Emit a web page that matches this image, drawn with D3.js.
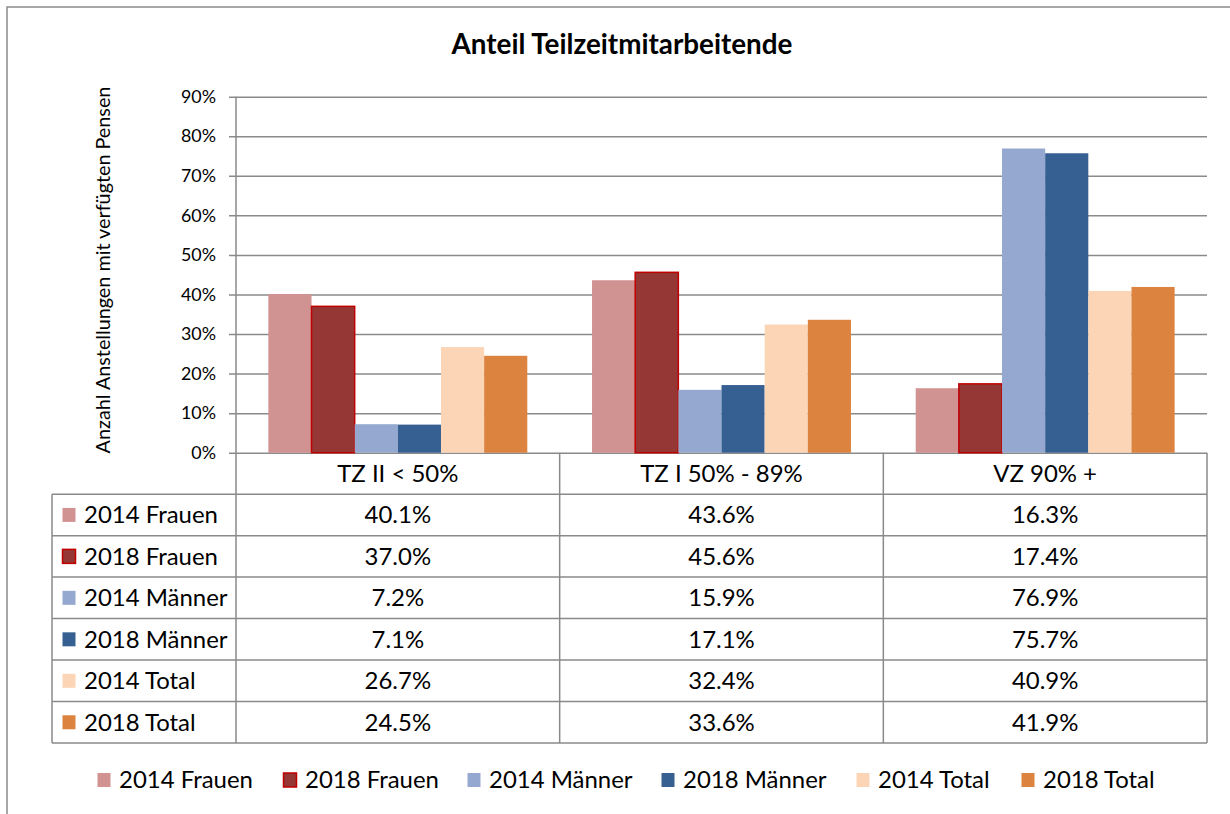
<!DOCTYPE html>
<html>
<head>
<meta charset="utf-8">
<script src="https://cdn.jsdelivr.net/npm/d3@7"></script>
<style>
  body { margin: 0; background: #fff; }
  svg text { font-family: Lato, "Open Sans", sans-serif; fill: #000; }
</style>
</head>
<body>
<div id="chart"></div>
<script>
// data
var categories = ["TZ II < 50%", "TZ I 50% - 89%", "VZ 90% +"];
var seriesNames = ["2014 Frauen", "2018 Frauen", "2014 Männer", "2018 Männer", "2014 Total", "2018 Total"];
var frauen2014 = [40.1, 43.6, 16.3];
var frauen2018 = [37.0, 45.6, 17.4];
var maenner2014 = [7.2, 15.9, 76.9];
var maenner2018 = [7.1, 17.1, 75.7];
var total2014 = [26.7, 32.4, 40.9];
var total2018 = [24.5, 33.6, 41.9];
var yTicks = [0, 10, 20, 30, 40, 50, 60, 70, 80, 90];

var seriesValues = [frauen2014, frauen2018, maenner2014, maenner2018, total2014, total2018];
var fills = ["#D19292", "#953735", "#95A9D0", "#376092", "#FBD5B5", "#DC843F"];
var strokes = [null, "#C00000", null, null, null, null];
var gridColor = "#8a8a8a";

var width = 1230, height = 814;

var svg = d3.select("#chart")
    .append("svg")
    .attr("width", width)
    .attr("height", height);

// pick a font size so that a sample string has the width seen in the picture
function fitSize(str, target, weight) {
    var t = svg.append("text")
        .attr("font-size", 20)
        .attr("font-weight", weight || "normal")
        .text(str);
    var len = t.node().getComputedTextLength();
    t.remove();
    return 20 * target / len;
}

var titleSize = fitSize("Anteil Teilzeitmitarbeitende", 341, "bold");
var tickSize = fitSize("90%", 35);
var axisTitleSize = fitSize("Anzahl Anstellungen mit verfügten Pensen", 367);
var tableSize = fitSize("2014 Frauen", 134);

// outer frame (runs off the right and bottom edge)
svg.append("rect")
    .attr("x", 7).attr("y", 7)
    .attr("width", 1300).attr("height", 900)
    .attr("fill", "none")
    .attr("stroke", gridColor)
    .attr("stroke-width", 1.5);

var plot = {left: 236, right: 1207, top: 96.7, bottom: 452.7};

var x = d3.scaleBand().domain(categories).range([plot.left, plot.right]).padding(0);
var xs = d3.scaleBand().domain(seriesNames).range([0, x.bandwidth()]).paddingInner(0).paddingOuter(0.75);
var y = d3.scaleLinear().domain([0, 90]).range([plot.bottom, plot.top]);

// title
svg.append("text")
    .attr("x", 622)
    .attr("y", 54)
    .attr("text-anchor", "middle")
    .attr("font-size", titleSize)
    .attr("font-weight", "bold")
    .text("Anteil Teilzeitmitarbeitende");

// y axis with gridlines
var yAxis = svg.append("g")
    .attr("class", "y axis")
    .attr("transform", "translate(" + plot.left + ",0)")
    .call(d3.axisLeft(y)
        .tickValues(yTicks)
        .tickFormat(function(d) { return d + "%"; })
        .tickSizeInner(-(plot.right - plot.left))
        .tickSizeOuter(0)
        .tickPadding(20));

yAxis.select(".domain").remove();
yAxis.selectAll(".tick line")
    .attr("stroke", gridColor)
    .attr("stroke-width", 1.5)
    .attr("x1", -7);
yAxis.selectAll(".tick text")
    .attr("font-size", tickSize)
    .attr("font-family", "Lato, 'Open Sans', sans-serif")
    .attr("fill", "#000");

svg.append("text")
    .attr("transform", "translate(110,270) rotate(-90)")
    .attr("text-anchor", "middle")
    .attr("font-size", axisTitleSize)
    .text("Anzahl Anstellungen mit verfügten Pensen");

// bars
var bars = [];
seriesNames.forEach(function(s, i) {
    categories.forEach(function(c, j) {
        bars.push({series: s, idx: i, cat: c, value: seriesValues[i][j]});
    });
});

svg.append("g").selectAll("rect")
    .data(bars)
    .enter().append("rect")
    .attr("x", function(d) { return x(d.cat) + xs(d.series); })
    .attr("width", xs.bandwidth())
    .attr("y", function(d) { return y(d.value); })
    .attr("height", function(d) { return y(0) - y(d.value); })
    .attr("fill", function(d) { return fills[d.idx]; })
    .attr("stroke", function(d) { return strokes[d.idx] || "none"; })
    .attr("stroke-width", 1.5);

// data table below the plot
var rows = ["header"].concat(seriesNames);
var ty = d3.scaleBand().domain(rows).range([plot.bottom, 743]);
var tableLeft = 52;

var table = svg.append("g").attr("class", "table");

// horizontal lines
table.selectAll("line.h")
    .data(rows.slice(1).concat(["end"]))
    .enter().append("line")
    .attr("class", "h")
    .attr("x1", tableLeft)
    .attr("x2", plot.right)
    .attr("y1", function(d) { return d === "end" ? ty.range()[1] : ty(d); })
    .attr("y2", function(d) { return d === "end" ? ty.range()[1] : ty(d); })
    .attr("stroke", gridColor)
    .attr("stroke-width", 1.5);

// vertical lines
table.append("line")
    .attr("x1", tableLeft).attr("x2", tableLeft)
    .attr("y1", ty(seriesNames[0])).attr("y2", ty.range()[1])
    .attr("stroke", gridColor).attr("stroke-width", 1.5);
table.append("line")
    .attr("x1", plot.left).attr("x2", plot.left)
    .attr("y1", plot.top).attr("y2", ty.range()[1])
    .attr("stroke", gridColor).attr("stroke-width", 1.5);
table.selectAll("line.v")
    .data(categories)
    .enter().append("line")
    .attr("class", "v")
    .attr("x1", function(d) { return x(d) + x.bandwidth(); })
    .attr("x2", function(d) { return x(d) + x.bandwidth(); })
    .attr("y1", plot.bottom)
    .attr("y2", ty.range()[1])
    .attr("stroke", gridColor)
    .attr("stroke-width", 1.5);

// category headers
table.selectAll("text.cat")
    .data(categories)
    .enter().append("text")
    .attr("class", "cat")
    .attr("x", function(d) { return x(d) + x.bandwidth() / 2; })
    .attr("y", ty("header") + ty.bandwidth() / 2)
    .attr("dy", "0.35em")
    .attr("text-anchor", "middle")
    .attr("font-size", tableSize)
    .text(function(d) { return d; });

// row labels with swatches
var rowG = table.selectAll("g.row")
    .data(seriesNames)
    .enter().append("g")
    .attr("class", "row")
    .attr("transform", function(d) { return "translate(0," + (ty(d) + ty.bandwidth() / 2) + ")"; });

rowG.append("rect")
    .attr("x", 62.5).attr("y", -7)
    .attr("width", 13).attr("height", 14)
    .attr("fill", function(d, i) { return fills[i]; })
    .attr("stroke", function(d, i) { return strokes[i] || "none"; })
    .attr("stroke-width", 1.5);

rowG.append("text")
    .attr("x", 84)
    .attr("dy", "0.35em")
    .attr("font-size", tableSize)
    .text(function(d) { return d; });

rowG.selectAll("text.val")
    .data(function(d, i) { return categories.map(function(c, j) { return {cat: c, value: seriesValues[i][j]}; }); })
    .enter().append("text")
    .attr("class", "val")
    .attr("x", function(d) { return x(d.cat) + x.bandwidth() / 2; })
    .attr("dy", "0.35em")
    .attr("text-anchor", "middle")
    .attr("font-size", tableSize)
    .text(function(d) { return d.value.toFixed(1) + "%"; });

// legend
var legendX = [97, 283, 467, 661, 856, 1021];
var legend = svg.append("g").attr("class", "legend")
    .selectAll("g")
    .data(seriesNames)
    .enter().append("g")
    .attr("transform", function(d, i) { return "translate(" + legendX[i] + ",780)"; });

legend.append("rect")
    .attr("x", 0.5).attr("y", -7)
    .attr("width", 13).attr("height", 14)
    .attr("fill", function(d, i) { return fills[i]; })
    .attr("stroke", function(d, i) { return strokes[i] || "none"; })
    .attr("stroke-width", 1.5);

legend.append("text")
    .attr("x", 22)
    .attr("dy", "0.35em")
    .attr("font-size", tableSize)
    .text(function(d) { return d; });
</script>
</body>
</html>
